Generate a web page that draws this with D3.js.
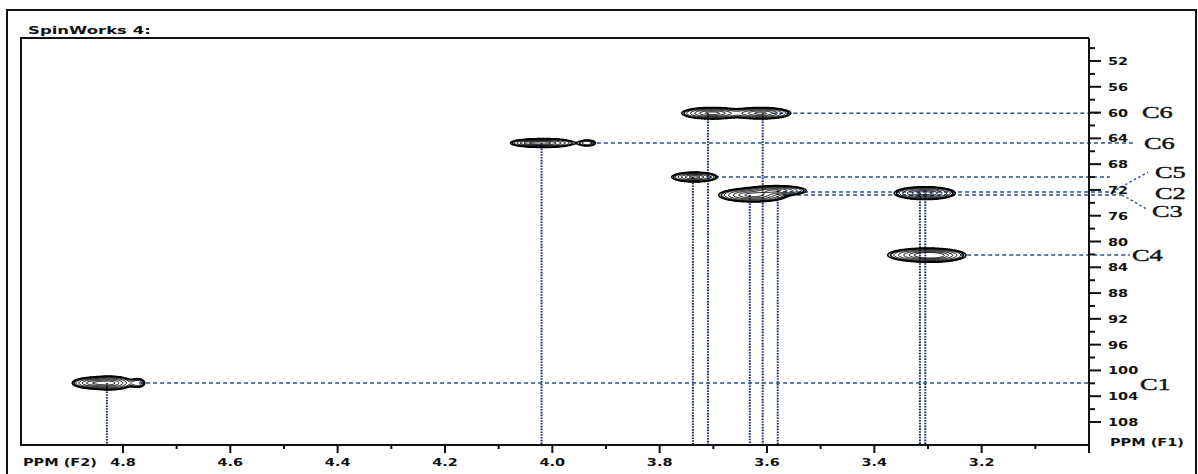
<!DOCTYPE html>
<html lang="en">
<head>
  <meta charset="UTF-8" />
  <title>SpinWorks 4 HSQC</title>
  <script src="https://d3js.org/d3.v7.min.js"></script>
  <style>
    body { margin: 0; padding: 0; background: #fff; }
    svg { display: block; }
    .lbl { font-family: "DejaVu Sans", Verdana, sans-serif; font-weight: bold; fill: #111; }
    .clbl { font-family: "Liberation Serif", "Times New Roman", serif; fill: #111; stroke: #111; stroke-width: 0.4px; }
  </style>
</head>
<body>
  <svg id="chart" width="1198" height="474"></svg>

  <script>
    // F2 (1H) ticks, F1 (13C) ticks
    const f2Major = [4.8, 4.6, 4.4, 4.2, 4.0, 3.8, 3.6, 3.4, 3.2, 3.0];
    const f2Minor = [4.7, 4.5, 4.3, 4.1, 3.9, 3.7, 3.5, 3.3, 3.1];
    const f1Major = [52, 56, 60, 64, 68, 72, 76, 80, 84, 88, 92, 96, 100, 104, 108];
    const f1Minor = [50, 54, 58, 62, 66, 70, 74, 78, 82, 86, 90, 94, 98, 102, 106];

    // cross peaks, each drawn as a sum of gaussian components (ppm)
    const peakF2    = [4.826, 4.860, 4.772, 4.016, 4.046, 3.935, 3.702, 3.612, 3.735, 3.626, 3.582, 3.306, 3.304, 3.286];
    const peakF1    = [101.95, 101.95, 101.95, 64.72, 64.72, 64.72, 60.1, 60.1, 70.0, 72.8, 72.1, 72.5, 82.1, 82.2];
    const peakWF2   = [0.019, 0.016, 0.008, 0.024, 0.014, 0.010, 0.024, 0.024, 0.018, 0.027, 0.024, 0.024, 0.030, 0.022];
    const peakWF1   = [0.45, 0.38, 0.42, 0.29, 0.22, 0.30, 0.38, 0.38, 0.32, 0.45, 0.33, 0.42, 0.45, 0.40];
    const peakAmp   = [1, 0.6, 0.2, 1, 0.35, 0.2, 1, 0.95, 1, 1, 0.85, 1, 1, 0.45];

    // vertical (F2) guide lines: ppm and the F1 value where they start
    const guideF2     = [4.830, 4.020, 3.738, 3.710, 3.632, 3.608, 3.580, 3.315, 3.305];
    const guideFromF1 = [101.95, 64.72, 70.0, 60.1, 72.8, 60.1, 72.1, 72.5, 72.5];

    // horizontal (F1) guide lines and carbon labels
    const carbonNames   = ["C6", "C6", "C5", "C2", "C3", "C4", "C1"];
    const carbonF1      = [60.1, 64.72, 70.0, 72.32, 72.79, 82.1, 101.95];
    const carbonFromF2  = [3.59, 3.93, 3.71, 3.57, 3.57, 3.24, 4.77];
    const carbonLabelF1 = [60.1, 64.9, 69.4, 72.6, 75.4, 82.25, 102.3];

    const svg = d3.select("#chart");
    const pLeft = 21, pTop = 38, pRight = 1089, pBottom = 445;

    const x = d3.scaleLinear().domain([4.99, 3.0]).range([pLeft, pRight]);
    const y = d3.scaleLinear().domain([48.43, 111.57]).range([pTop, pBottom]);

    function stext(parent, px, py, str, cls, size, sx, anchor) {
      return parent.append("text")
        .attr("class", cls)
        .attr("transform", `translate(${px},${py}) scale(${sx},1)`)
        .attr("font-size", size)
        .attr("text-anchor", anchor || "start")
        .text(str);
    }

    // outer frame
    svg.append("rect")
      .attr("x", 7).attr("y", 10).attr("width", 1189).attr("height", 470)
      .attr("fill", "none").attr("stroke", "#111").attr("stroke-width", 2);

    stext(svg, 28, 34, "SpinWorks 4:", "lbl", 11, 1.5);

    // guide lines
    const guides = svg.append("g");
    guides.selectAll("line.v")
      .data(guideF2)
      .join("line")
      .attr("class", "v")
      .attr("x1", d => x(d)).attr("x2", d => x(d))
      .attr("y1", (d, i) => y(guideFromF1[i])).attr("y2", pBottom)
      .attr("stroke", "#1b2c63").attr("stroke-width", 2)
      .attr("stroke-dasharray", "1.6,1.2");

    const lineEnd = [12, 44, 21, 30, 33, 41, 0];
    guides.selectAll("line.h")
      .data(carbonF1)
      .join("line")
      .attr("class", "h")
      .attr("x1", (d, i) => x(carbonFromF2[i])).attr("x2", (d, i) => pRight + lineEnd[i])
      .attr("y1", d => y(d)).attr("y2", d => y(d))
      .attr("stroke", "#2b4f8f").attr("stroke-width", 1.6)
      .attr("stroke-dasharray", "4,3");

    // connectors to C5 / C3 labels
    guides.append("line")
      .attr("x1", pRight + 23).attr("y1", y(carbonF1[3]))
      .attr("x2", pRight + 59).attr("y2", y(carbonLabelF1[2]) - 1)
      .attr("stroke", "#2b4f8f").attr("stroke-width", 1.4).attr("stroke-dasharray", "2.5,2.5");
    guides.append("line")
      .attr("x1", pRight + 33).attr("y1", y(carbonF1[4]))
      .attr("x2", pRight + 59).attr("y2", y(carbonLabelF1[4]) - 2)
      .attr("stroke", "#2b4f8f").attr("stroke-width", 1.4).attr("stroke-dasharray", "2.5,2.5");

    // contour map
    const gw = pRight - pLeft, gh = pBottom - pTop;
    const values = new Float64Array(gw * gh);
    const kx = Math.abs(x(1) - x(0)), ky = Math.abs(y(1) - y(0));
    peakF2.forEach((f2, k) => {
      const cx = x(f2) - pLeft, cy = y(peakF1[k]) - pTop;
      const sx = peakWF2[k] * kx, sy = peakWF1[k] * ky, a = peakAmp[k];
      const i0 = Math.max(0, Math.floor(cx - 5 * sx)), i1 = Math.min(gw - 1, Math.ceil(cx + 5 * sx));
      const j0 = Math.max(0, Math.floor(cy - 5 * sy)), j1 = Math.min(gh - 1, Math.ceil(cy + 5 * sy));
      for (let j = j0; j <= j1; j++) {
        const dy = (j + 0.5 - cy) / sy;
        for (let i = i0; i <= i1; i++) {
          const dx = (i + 0.5 - cx) / sx;
          values[j * gw + i] += a * Math.exp(-0.5 * (dx * dx + dy * dy));
        }
      }
    });
    const levels = [0.06, 0.09, 0.14, 0.24, 0.4, 0.62, 0.85];
    const contours = d3.contours().size([gw, gh]).thresholds(levels)(values);
    svg.append("g")
      .attr("transform", `translate(${pLeft},${pTop})`)
      .selectAll("path")
      .data(contours)
      .join("path")
      .attr("d", d3.geoPath())
      .attr("fill", "none")
      .attr("stroke", "#000")
      .attr("stroke-width", (d, i) => i < 2 ? 1.5 : 1.0);

    // plot box
    svg.append("path")
      .attr("d", `M${pRight},${pTop}H${pLeft}V${pBottom}H${pRight}`)
      .attr("fill", "none").attr("stroke", "#111").attr("stroke-width", 2);

    // bottom axis (F2)
    const xAxis = svg.append("g");
    xAxis.append("line").attr("x1", pLeft).attr("x2", pRight).attr("y1", pBottom).attr("y2", pBottom)
      .attr("stroke", "#111").attr("stroke-width", 2);
    xAxis.selectAll("line.maj").data(f2Major).join("line").attr("class", "maj")
      .attr("x1", d => x(d)).attr("x2", d => x(d)).attr("y1", pBottom).attr("y2", pBottom + 8)
      .attr("stroke", "#111").attr("stroke-width", 2);
    xAxis.selectAll("line.min").data(f2Minor).join("line").attr("class", "min")
      .attr("x1", d => x(d)).attr("x2", d => x(d)).attr("y1", pBottom).attr("y2", pBottom + 4)
      .attr("stroke", "#111").attr("stroke-width", 2);
    f2Major.slice(0, -1).forEach(d => stext(xAxis, x(d), 466, d3.format(".1f")(d), "lbl", 10, 1.45, "middle"));
    stext(xAxis, 23, 466, "PPM (F2)", "lbl", 10, 1.45);

    // right axis (F1)
    const yAxis = svg.append("g");
    yAxis.append("line").attr("x1", pRight).attr("x2", pRight).attr("y1", pTop).attr("y2", pBottom + 8)
      .attr("stroke", "#111").attr("stroke-width", 2);
    yAxis.selectAll("line.maj").data(f1Major).join("line").attr("class", "maj")
      .attr("x1", pRight).attr("x2", pRight + 12).attr("y1", d => y(d)).attr("y2", d => y(d))
      .attr("stroke", "#111").attr("stroke-width", 2);
    yAxis.selectAll("line.min").data(f1Minor).join("line").attr("class", "min")
      .attr("x1", pRight).attr("x2", pRight + 6).attr("y1", d => y(d)).attr("y2", d => y(d))
      .attr("stroke", "#111").attr("stroke-width", 2);
    f1Major.forEach(d => stext(yAxis, pRight + 19, y(d) + 4, String(d), "lbl", 10, 1.45));
    stext(yAxis, pRight + 21, 446, "PPM (F1)", "lbl", 10, 1.45);

    // carbon labels
    const labelDx = [53, 55, 66, 66, 63, 43, 51];
    carbonNames.forEach((c, i) => stext(svg, pRight + labelDx[i], y(carbonLabelF1[i]) + 5, c, "clbl", 16.5, 1.6));
  </script>
</body>
</html>
